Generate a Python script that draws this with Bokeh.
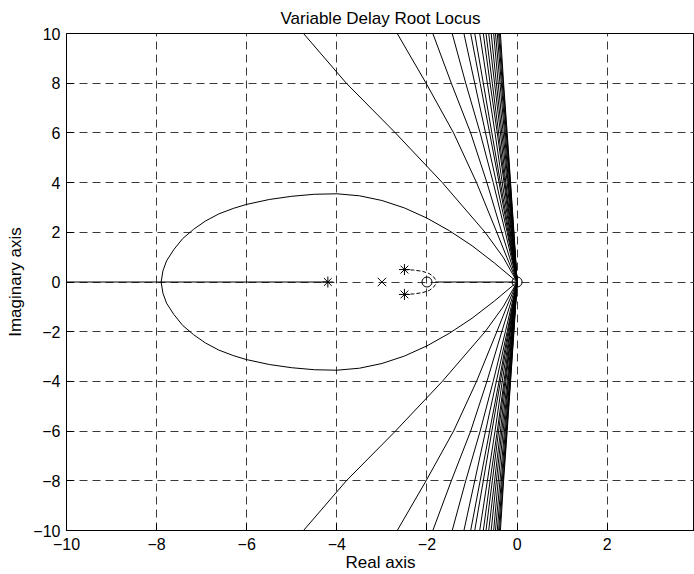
from bokeh.plotting import figure
from bokeh.models import FixedTicker, Range1d, Label
from bokeh.embed import file_html
from bokeh.resources import INLINE

# ---- data ----
x_ticks = [-10, -8, -6, -4, -2, 0, 2]
x_tick_labels = ["\u221210", "\u22128", "\u22126", "\u22124", "\u22122", "0", "2"]
y_ticks = [-10, -8, -6, -4, -2, 0, 2, 4, 6, 8, 10]
y_tick_labels = ["\u221210", "\u22128", "\u22126", "\u22124", "\u22122", "0", "2", "4", "6", "8", "10"]

# large loop (upper half; lower half is the conjugate)
loop_x = [-7.90, -7.86, -7.78, -7.62, -7.42, -7.18, -6.92, -6.62, -6.30, -6.01, -5.50,
          -5.00, -4.50, -4.00, -3.50, -3.00, -2.50, -2.00, -1.50, -1.00, -0.50, 0.00]
loop_y = [0.00, 0.45, 0.85, 1.30, 1.75, 2.12, 2.45, 2.74, 2.96, 3.12, 3.32,
          3.45, 3.53, 3.55, 3.47, 3.28, 2.98, 2.57, 2.06, 1.46, 0.76, 0.00]

# fan of delay branches: x position at each imaginary level (upper half)
branch_levels = [10, 8, 6, 4, 2, 1, 0]
branch_x = [
    [-4.74, -3.79, -2.70, -1.66, -0.71, -0.31, 0.0],
    [-2.66, -2.02, -1.41, -0.90, -0.45, -0.23, 0.0],
    [-1.87, -1.46, -1.03, -0.67, -0.34, -0.17, 0.0],
    [-1.44, -1.14, -0.82, -0.53, -0.26, -0.13, 0.0],
    [-1.18, -0.94, -0.70, -0.46, -0.22, -0.11, 0.0],
    [-1.03, -0.82, -0.61, -0.40, -0.20, -0.10, 0.0],
    [-0.94, -0.75, -0.56, -0.37, -0.18, -0.09, 0.0],
    [-0.83, -0.66, -0.49, -0.33, -0.16, -0.08, 0.0],
    [-0.75, -0.60, -0.44, -0.29, -0.15, -0.07, 0.0],
    [-0.69, -0.55, -0.41, -0.27, -0.13, -0.07, 0.0],
    [-0.63, -0.50, -0.37, -0.25, -0.12, -0.06, 0.0],
    [-0.575, -0.46, -0.34, -0.22, -0.11, -0.055, 0.0],
    [-0.52, -0.42, -0.31, -0.20, -0.10, -0.05, 0.0],
    [-0.48, -0.38, -0.28, -0.19, -0.09, -0.045, 0.0],
    [-0.44, -0.35, -0.26, -0.17, -0.085, -0.04, 0.0],
    [-0.41, -0.33, -0.24, -0.16, -0.08, -0.04, 0.0],
    [-0.39, -0.31, -0.23, -0.15, -0.075, -0.037, 0.0],
    [-0.37, -0.30, -0.22, -0.145, -0.07, -0.035, 0.0],
]

# real-axis segments of the locus
real_left_x = [-10.0, -4.2]
real_right_x = [-1.8, 0.0]

# dashed branch from the complex start points to the real axis
arc_x = [-2.50, -2.30, -2.10, -1.95, -1.86, -1.81, -1.80]
arc_y = [0.50, 0.48, 0.43, 0.34, 0.22, 0.10, 0.00]

# markers
pole_x, pole_y = [-3.0], [0.0]
zero_x, zero_y = [-2.0, 0.0], [0.0, 0.0]
start_x, start_y = [-4.2, -2.5, -2.5], [0.0, 0.5, -0.5]

FONT = "Liberation Sans"

p = figure(width=694, height=574, output_backend="svg", toolbar_location=None,
           x_range=Range1d(-10, 3.937), y_range=Range1d(-10, 10),
           min_border_left=66, min_border_right=0, min_border_top=33, min_border_bottom=44,
           title="Variable Delay Root Locus", background_fill_color="white",
           border_fill_color="white")

p.title.text_font = FONT
p.title.text_font_size = "17px"
p.title.text_font_style = "normal"
p.title.align = "center"
p.title.text_color = "black"
p.title.standoff = 12

p.outline_line_color = "black"
p.outline_line_width = 1

for g in (p.xgrid[0], p.ygrid[0]):
    g.grid_line_color = "#3a3a3a"
    g.grid_line_dash = "8 5"
    g.grid_line_width = 1
p.xgrid.ticker = FixedTicker(ticks=x_ticks)
p.ygrid.ticker = FixedTicker(ticks=y_ticks)

p.xaxis.ticker = FixedTicker(ticks=x_ticks)
p.yaxis.ticker = FixedTicker(ticks=y_ticks)
p.xaxis.major_label_overrides = {t: l for t, l in zip(x_ticks, x_tick_labels)}
p.yaxis.major_label_overrides = {t: l for t, l in zip(y_ticks, y_tick_labels)}
for ax in (p.xaxis[0], p.yaxis[0]):
    ax.major_tick_in = 7
    ax.major_tick_out = 0
    ax.minor_tick_in = 0
    ax.minor_tick_out = 0
    ax.axis_line_color = "black"
    ax.major_tick_line_color = "black"
    ax.major_label_text_font = FONT
    ax.major_label_text_font_size = "16px"
    ax.major_label_text_color = "black"
    ax.axis_label_text_font = FONT
    ax.axis_label_text_font_size = "17px"
    ax.axis_label_text_font_style = "normal"
    ax.axis_label_text_color = "black"
p.xaxis.axis_label = "Real axis"
p.yaxis.axis_label = "Imaginary axis"
p.xaxis.major_label_standoff = 7
p.xaxis.axis_label_standoff = 0
p.yaxis.major_label_standoff = 6
p.yaxis.axis_label_standoff = 5

# ---- locus ----
black = "black"
xs = [list(b) for b in branch_x] + [list(b) for b in branch_x]
ys = [list(branch_levels) for _ in branch_x] + [[-v for v in branch_levels] for _ in branch_x]
p.multi_line(xs=xs, ys=ys, line_color=black, line_width=1)

p.line(loop_x, loop_y, line_color=black, line_width=1)
p.line(loop_x, [-v for v in loop_y], line_color=black, line_width=1)
p.line(real_left_x, [0, 0], line_color=black, line_width=1)
p.line(real_right_x, [0, 0], line_color=black, line_width=1)

p.line(arc_x, arc_y, line_color=black, line_width=1, line_dash="4 2")
p.line(arc_x, [-v for v in arc_y], line_color=black, line_width=1, line_dash="4 2")

p.scatter(pole_x, pole_y, marker="x", size=12, line_color=black, line_width=1)
p.scatter(zero_x, zero_y, marker="circle", size=10, line_color=black, fill_color=None, line_width=1)
p.scatter(start_x, start_y, marker="asterisk", size=11, line_color=black, line_width=1)

p.add_layout(Label(x=4, y=-10, x_offset=-3, y_offset=-7, text="4", text_align="right",
                   text_baseline="top", text_font=FONT, text_font_size="16px",
                   text_color="black"))

open("out.html", "w").write(file_html(p, INLINE))
